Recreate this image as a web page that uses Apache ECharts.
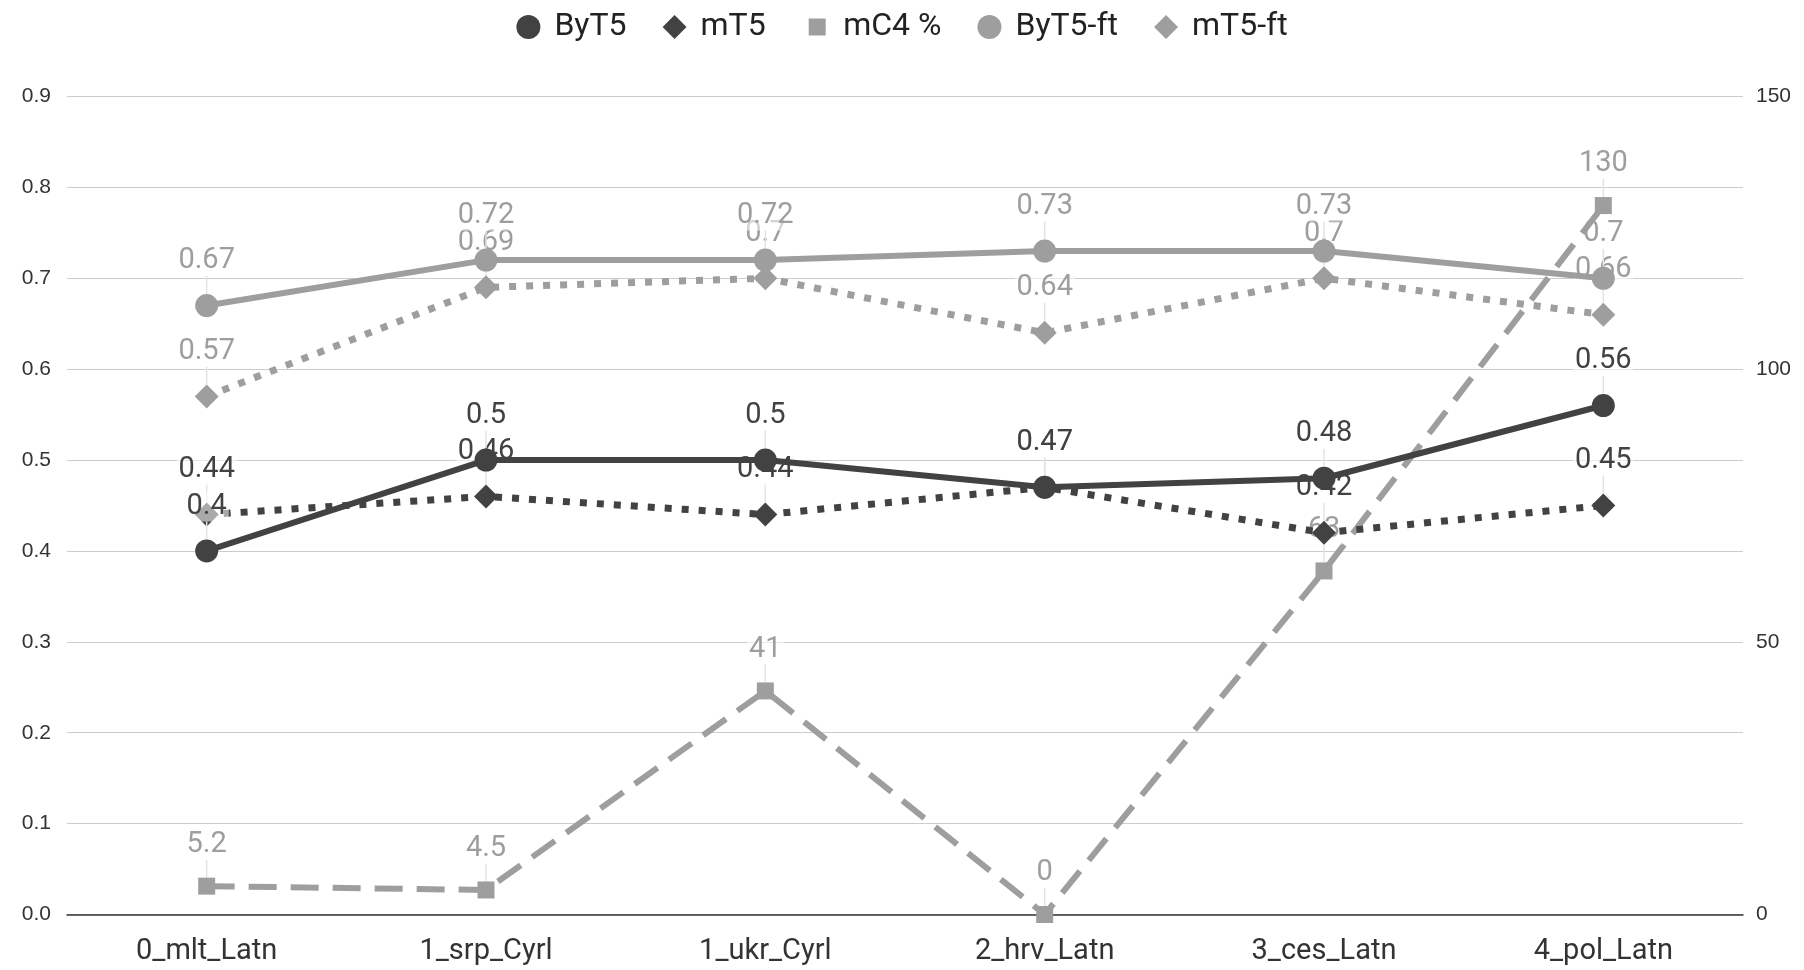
<!DOCTYPE html>
<html>
<head>
<meta charset="utf-8">
<script src="https://cdn.jsdelivr.net/npm/echarts@6/dist/echarts.min.js"></script>
<style>
  html, body { margin: 0; padding: 0; background: #ffffff; }
  #chart { width: 1804px; height: 970px; }
</style>
</head>
<body>
<div id="chart"></div>
<script>
// Languages on the x axis
const categories = ['0_mlt_Latn', '1_srp_Cyrl', '1_ukr_Cyrl', '2_hrv_Latn', '3_ces_Latn', '4_pol_Latn'];

// Scores (left axis)
const byt5   = [0.4, 0.5, 0.5, 0.47, 0.48, 0.56];
const mt5    = [0.44, 0.46, 0.44, 0.47, 0.42, 0.45];
const byt5ft = [0.67, 0.72, 0.72, 0.73, 0.73, 0.7];
const mt5ft  = [0.57, 0.69, 0.7, 0.64, 0.7, 0.66];

// mC4 share in percent (right axis)
const mc4pct = [5.2, 4.5, 41, 0, 63, 130];

// Axis ranges
const leftMin = 0, leftMax = 0.9, leftStep = 0.1;
const rightMin = 0, rightMax = 150, rightStep = 50;

const DARK = '#424242';
const GRAY = '#9e9e9e';

function labelFor(color) {
  return {
    show: true,
    position: 'top',
    distance: 4,
    color: color,
    fontFamily: 'Roboto',
    fontSize: 29,
    lineHeight: 30,
    padding: [0, 2, 0, 2],
    backgroundColor: 'rgba(255,255,255,0.55)',
    formatter: p => String(p.value)
  };
}

const guideLine = {
  show: true,
  lineStyle: { color: '#e3e3e3', width: 1.5 }
};

function lineSeries(name, data, opts) {
  return Object.assign({
    name: name,
    type: 'line',
    data: data,
    label: labelFor(opts.color),
    labelLine: guideLine,
    labelLayout: { dy: -14 },
    itemStyle: { color: opts.color },
    lineStyle: { color: opts.color, width: opts.width, type: opts.lineType },
    emphasis: { disabled: true }
  }, opts.extra || {});
}

const chart = echarts.init(document.getElementById('chart'), null, { renderer: 'canvas' });

chart.setOption({
  animation: false,
  backgroundColor: '#ffffff',
  legend: {
    top: 6,
    left: 'center',
    itemWidth: 24,
    itemHeight: 24,
    itemGap: 36,
    textStyle: { fontFamily: 'Roboto', fontSize: 32, color: '#222222', padding: [0, 0, 0, 9] },
    data: [
      { name: 'ByT5', icon: 'circle', itemStyle: { color: DARK } },
      { name: 'mT5', icon: 'diamond', itemStyle: { color: DARK } },
      // smaller square: white border trims the filled area
      { name: 'mC4 %', icon: 'rect', itemStyle: { color: GRAY, borderColor: '#ffffff', borderWidth: 7 } },
      { name: 'ByT5-ft', icon: 'circle', itemStyle: { color: GRAY } },
      { name: 'mT5-ft', icon: 'diamond', itemStyle: { color: GRAY } }
    ]
  },
  grid: { left: 67, right: 61, top: 96.5, bottom: 55.5 },
  xAxis: {
    type: 'category',
    data: categories,
    boundaryGap: true,
    axisLine: { show: true, lineStyle: { color: '#333333', width: 1.5 } },
    axisTick: { show: false },
    axisLabel: { fontFamily: 'Roboto', fontSize: 29, color: '#333333', margin: 23 }
  },
  yAxis: [
    {
      type: 'value',
      min: leftMin, max: leftMax, interval: leftStep,
      axisLine: { show: false },
      axisTick: { show: false },
      splitLine: { lineStyle: { color: '#cccccc', width: 1.2 } },
      axisLabel: {
        fontFamily: 'Liberation Sans', fontSize: 21, color: '#333333', margin: 16,
        formatter: v => v.toFixed(1)
      }
    },
    {
      type: 'value',
      min: rightMin, max: rightMax, interval: rightStep,
      position: 'right',
      axisLine: { show: false },
      axisTick: { show: false },
      splitLine: { show: false },
      axisLabel: { fontFamily: 'Liberation Sans', fontSize: 21, color: '#333333', margin: 13 }
    }
  ],
  series: [
    lineSeries('ByT5', byt5, { color: DARK, width: 6, lineType: 'solid',
      extra: { symbol: 'circle', symbolSize: 23, z: 5 } }),
    lineSeries('mT5', mt5, { color: DARK, width: 7, lineType: [7, 10],
      extra: { symbol: 'diamond', symbolSize: 24, z: 4 } }),
    lineSeries('mC4 %', mc4pct, { color: GRAY, width: 6, lineType: [28, 14],
      extra: { symbol: 'rect', symbolSize: 17, yAxisIndex: 1, z: 3 } }),
    lineSeries('ByT5-ft', byt5ft, { color: GRAY, width: 6, lineType: 'solid',
      extra: { symbol: 'circle', symbolSize: 23, z: 2 } }),
    lineSeries('mT5-ft', mt5ft, { color: GRAY, width: 7, lineType: [7, 10],
      extra: { symbol: 'diamond', symbolSize: 24, z: 1 } })
  ]
});
</script>
</body>
</html>
